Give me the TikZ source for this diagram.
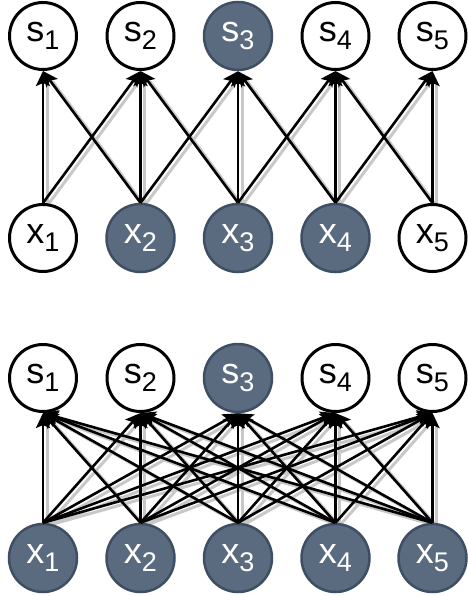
\documentclass[tikz,border=0pt]{standalone}
\usepackage{fontspec}
\setmainfont{Liberation Sans}
\usetikzlibrary{arrows.meta,backgrounds}
\definecolor{slate}{RGB}{90,106,127}
\definecolor{slateedge}{RGB}{62,79,99}
\definecolor{shadowgray}{RGB}{200,200,200}
\newcommand{\varlab}[2]{{\fontsize{36}{36}\selectfont #1}\raisebox{-8pt}{\fontsize{27}{27}\selectfont #2}}
\tikzset{
  plainvar/.style={circle, draw=black, line width=3pt, fill=white, minimum size=67pt, inner sep=0pt, text=black},
  shadedvar/.style={circle, draw=slateedge, line width=2.5pt, fill=slate, minimum size=68pt, inner sep=0pt, text=white},
  edge/.style={line width=2.6pt, -{Stealth[length=15pt, width=14pt, inset=3pt]}},
  edgeshadow/.style={line width=3pt, shadowgray, shorten >=9pt}
}
\begin{document}
\begin{tikzpicture}[x=1pt, y=-1pt]
\useasboundingbox (0,0) rectangle (467,596);
% upper graph: each x feeds its own s and the two neighbours
\foreach \i/\px/\st/\xt in {1/43/plainvar/plainvar, 2/140.5/plainvar/shadedvar, 3/238/shadedvar/shadedvar, 4/335.5/plainvar/shadedvar, 5/432.5/plainvar/plainvar}{
  \node[\st] (ts\i) at (\px,36) {\varlab{s}{\i}};
  \node[\xt] (tx\i) at (\px,238) {\varlab{x}{\i}};
}
% lower graph: every x feeds every s
\foreach \i/\px/\st in {1/43/plainvar, 2/140.5/plainvar, 3/238/shadedvar, 4/335.5/plainvar, 5/432.5/plainvar}{
  \node[\st] (bs\i) at (\px,378) {\varlab{s}{\i}};
  \node[shadedvar] (bx\i) at (\px,558) {\varlab{x}{\i}};
}
\begin{scope}[on background layer]
  \foreach \i/\js in {1/{1,2}, 2/{1,2,3}, 3/{2,3,4}, 4/{3,4,5}, 5/{4,5}}{
    \foreach \j in \js{
      \draw[edgeshadow] ([shift={(4,3)}]tx\i.north) -- ([shift={(4,3)}]ts\j.south);
    }
  }
  \foreach \i in {1,...,5}{
    \foreach \j in {1,...,5}{
      \draw[edgeshadow] ([shift={(4,3)}]bx\i.north) -- ([shift={(4,3)}]bs\j.south);
    }
  }
\end{scope}
\foreach \i/\js in {1/{1,2}, 2/{1,2,3}, 3/{2,3,4}, 4/{3,4,5}, 5/{4,5}}{
  \foreach \j in \js{
    \draw[edge] (tx\i.north) -- (ts\j.south);
  }
}
\foreach \i in {1,...,5}{
  \foreach \j in {1,...,5}{
    \draw[edge] (bx\i.north) -- (bs\j.south);
  }
}
\end{tikzpicture}
\end{document}
